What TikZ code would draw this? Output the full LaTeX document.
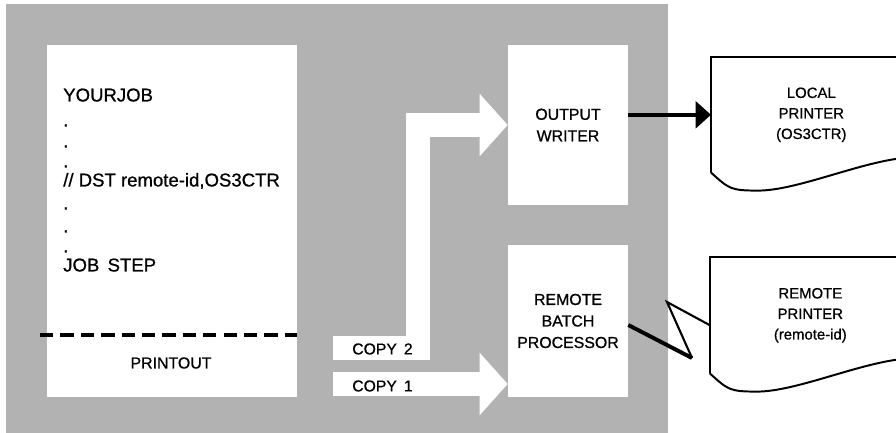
\documentclass[tikz,border=0pt]{standalone}
\usepackage{fontspec}
\setmainfont{Liberation Sans}[FakeBold=0.8]
\usepackage{tikz}
\usetikzlibrary{arrows.meta,positioning}

\definecolor{screen}{gray}{0.7}

\begin{document}
\begin{tikzpicture}[
    x=0.025cm,y=-0.025cm,
    box/.style={fill=white, align=center, inner sep=0pt,
                font=\fontsize{11.3}{15.3}\selectfont},
    printer/.style={align=center, inner sep=0pt, anchor=north west,
                    minimum width=5cm, font=\fontsize{10.6}{14.6}\selectfont},
    jobtxt/.style={anchor=west, inner sep=0pt, text height=1.5ex, text depth=0.3ex,
                   font=\fontsize{13.2}{14}\selectfont},
    copytxt/.style={anchor=west, inner sep=0pt, font=\fontsize{11.2}{13}\selectfont},
    fat/.style={white, line width=0.62cm, line join=miter,
                -{Triangle[length=0.7cm, width=1.52cm]}},
    arrow/.style={line width=2.8pt, -{Triangle[length=11pt, width=19pt]}},
    cut/.style={line width=2.2pt, dash pattern=on 9.5pt off 5pt},
    bolt/.style={line width=1.5pt, line join=miter}
]
\useasboundingbox (0,0) rectangle (896,433);
\clip (0,0) rectangle (896,433);
\fill[screen] (6,4) rectangle (668,433);

% Job stream
\node[box, minimum width=6.25cm, minimum height=8.8cm] (job) at (172,221) {};
\node[jobtxt] (yourjob) at (63,97) {YOURJOB};
\foreach \y in {122,143,163,205,228,248}
    \node[jobtxt] (dot\y) at (63,\y) {.};
\node[jobtxt] (dst) at (63,182) {// DST remote-id,OS3CTR};
\node[jobtxt] (jobstep) at (63,267) {JOB\, STEP};
\coordinate (cutL) at (40,335);
\draw[cut] (cutL) -- (job.east |- cutL);
\node[box] (printout) at (171,363) {PRINTOUT};

% Output writer and remote batch processor
\node[box, minimum width=3cm, minimum height=4cm] (writer) at (568,125) {OUTPUT\\WRITER};
\node[box, minimum width=3cm, minimum height=3.8cm] (rbp) at (568,321) {REMOTE\\BATCH\\PROCESSOR};

% Copies
\coordinate (c2) at (333,348);
\coordinate (bend) at (418,348);
\coordinate (c1) at (333,384);
\draw[fat] (c2) -- (bend) |- (writer.west);
\draw[fat] (c1) -- (c1 -| rbp.west);
\node[copytxt] (copy2) at (352,349) {COPY\, 2};
\node[copytxt] (copy1) at (352,386) {COPY\, 1};

% Printers
\node[printer, minimum height=2.875cm] (local) at (711,57) {LOCAL\\PRINTER\\(OS3CTR)};
\node[printer, minimum height=2.9cm] (remote) at (710,257) {REMOTE\\PRINTER\\(remote-id)};
\foreach \p in {local,remote}
    \draw[line width=1.4pt] (\p.south west) -- (\p.north west) -- (\p.north east)
        (\p.south west) .. controls +(18,16) and +(-28,0) .. ++(47,18)
        .. controls +(40,0) and +(-45,3) .. ++(150,-33) -- ++(20,0);

\draw[arrow] (writer.east |- local.west) -- (local.west);
\coordinate (zigA) at (692,358);
\coordinate (zigB) at (667,302);
\draw[line width=2.8pt] ([yshift=-0.1cm]rbp.east) -- (zigA);
\draw[bolt] (zigA) -- (zigB) -- ([yshift=-0.25cm]remote.west);
\end{tikzpicture}
\end{document}
